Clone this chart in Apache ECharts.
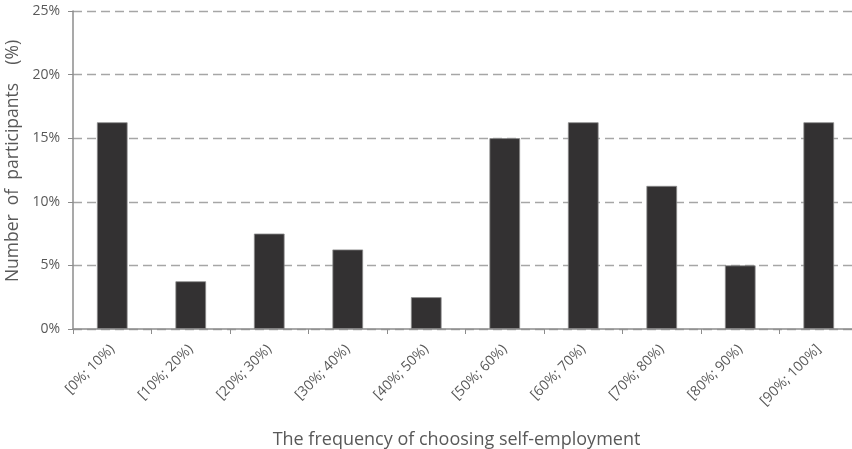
<!DOCTYPE html>
<html>
<head>
<meta charset="utf-8">
<script src="https://cdn.jsdelivr.net/npm/echarts@6/dist/echarts.min.js"></script>
<style>
  html, body { margin: 0; padding: 0; background: #fff; }
  #chart { width: 852px; height: 449px; }
</style>
</head>
<body>
<div id="chart"></div>
<script>
// Share of participants by how often they chose self-employment
const categories = ['[0%; 10%)', '[10%; 20%)', '[20%; 30%)', '[30%; 40%)', '[40%; 50%)',
                    '[50%; 60%)', '[60%; 70%)', '[70%; 80%)', '[80%; 90%)', '[90%; 100%]'];
const shares = [16.25, 3.75, 7.5, 6.25, 2.5, 15, 16.25, 11.25, 5, 16.25];
const yTicks = [0, 5, 10, 15, 20, 25];

const FONT = '"Open Sans", "Noto Sans", sans-serif';
const chart = echarts.init(document.getElementById('chart'), null, { renderer: 'canvas' });

chart.setOption({
  animation: false,
  backgroundColor: '#ffffff',
  grid: { left: 73, right: -6, top: 11, bottom: 120, containLabel: false, outerBoundsMode: 'none' },
  xAxis: {
    type: 'category',
    data: categories,
    name: 'The frequency of choosing self-employment',
    nameLocation: 'middle',
    nameGap: 102,
    nameTextStyle: { fontFamily: FONT, fontSize: 18, color: '#595959', padding: [0, 18, 0, 0] },
    axisLine: { lineStyle: { color: '#8c8c8c', width: 1.5 } },
    axisTick: { show: true, alignWithLabel: false, length: 5, lineStyle: { color: '#8c8c8c', width: 1 } },
    axisLabel: { rotate: 45, margin: 18, fontFamily: FONT, fontSize: 14, color: '#595959' }
  },
  yAxis: {
    type: 'value',
    min: yTicks[0],
    max: yTicks[yTicks.length - 1],
    interval: yTicks[1] - yTicks[0],
    name: 'Number  of  participants    (%)',
    nameLocation: 'middle',
    nameGap: 48,
    nameRotate: 90,
    nameTextStyle: { fontFamily: FONT, fontSize: 17.5, color: '#595959', padding: [0, 0, 0, 18] },
    axisLine: { show: true, lineStyle: { color: '#8c8c8c', width: 1.5 } },
    axisTick: { show: true, length: 5, lineStyle: { color: '#8c8c8c', width: 1 } },
    axisLabel: { margin: 13, fontFamily: FONT, fontSize: 14, color: '#595959', formatter: v => v + '%' },
    splitLine: { show: true, lineStyle: { color: '#a6a6a6', width: 1.3, type: [9, 5] } }
  },
  series: [{
    type: 'bar',
    data: shares,
    barWidth: '39%',
    itemStyle: { color: '#333132', borderColor: '#8a8a8a', borderWidth: 0.8 }
  }]
});
</script>
</body>
</html>
